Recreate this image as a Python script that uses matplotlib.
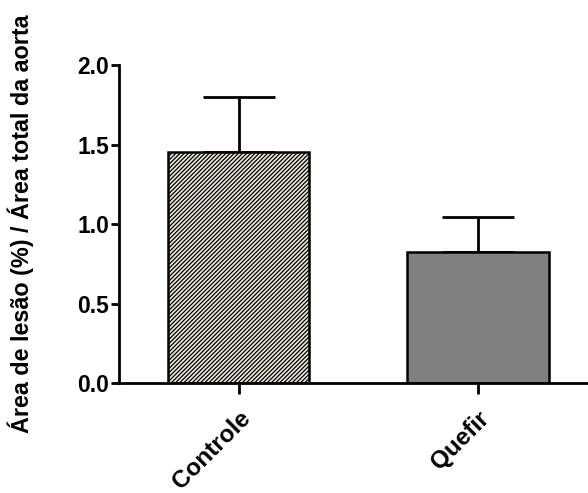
import matplotlib.pyplot as plt
import matplotlib.transforms as mtransforms

plt.rcParams['font.family'] = ['Liberation Sans', 'DejaVu Sans']
plt.rcParams['font.weight'] = 'bold'
plt.rcParams['hatch.linewidth'] = 0.9
plt.rcParams['hatch.color'] = '#2b2b20'

groups = ["Controle", "Quefir"]
means = [1.455, 0.825]
errors = [0.345, 0.22]
y_ticks = [0.0, 0.5, 1.0, 1.5, 2.0]

fig = plt.figure(figsize=(5.88, 4.93), dpi=100)
ax = fig.add_axes([0.2024, 0.223, 0.7976, 0.645])

x = range(len(groups))
bars = ax.bar(x, means, width=0.59, color=["#ecebdc", "#808080"],
              edgecolor="black", linewidth=1.8, zorder=2)
bars[0].set_hatch("////////")
ax.errorbar(x, means, yerr=[[0, 0], errors], fmt="none", ecolor="black",
            elinewidth=2, capsize=26, capthick=2, zorder=1)

ax.set_xlim(-0.5, 1.46)
ax.set_ylim(0, 2.0)
ax.set_yticks(y_ticks)
ax.set_yticklabels([f"{v:.1f}" for v in y_ticks], fontsize=16.5, fontweight="bold")
ax.set_xticks(list(x))
ax.set_xticklabels(groups, rotation=45, ha="right", rotation_mode="anchor",
                   fontsize=17.5, fontweight="bold")
# nudge rotated labels left so their ends sit under the ticks
shift = mtransforms.ScaledTranslation(-7 / 72, 0, fig.dpi_scale_trans)
for lbl in ax.get_xticklabels():
    lbl.set_transform(lbl.get_transform() + shift)

for side in ["top", "right"]:
    ax.spines[side].set_visible(False)
for side in ["left", "bottom"]:
    ax.spines[side].set_linewidth(2)
ax.tick_params(axis="y", length=6, width=2, pad=1)
ax.tick_params(axis="x", length=8, width=2, pad=9)

ax.set_ylabel("Área de lesão (%) / Área total da aorta", fontsize=16.8,
              fontweight="bold")
ax.yaxis.set_label_coords(-0.181, 0.5)

fig.savefig("out.png", dpi=100)
